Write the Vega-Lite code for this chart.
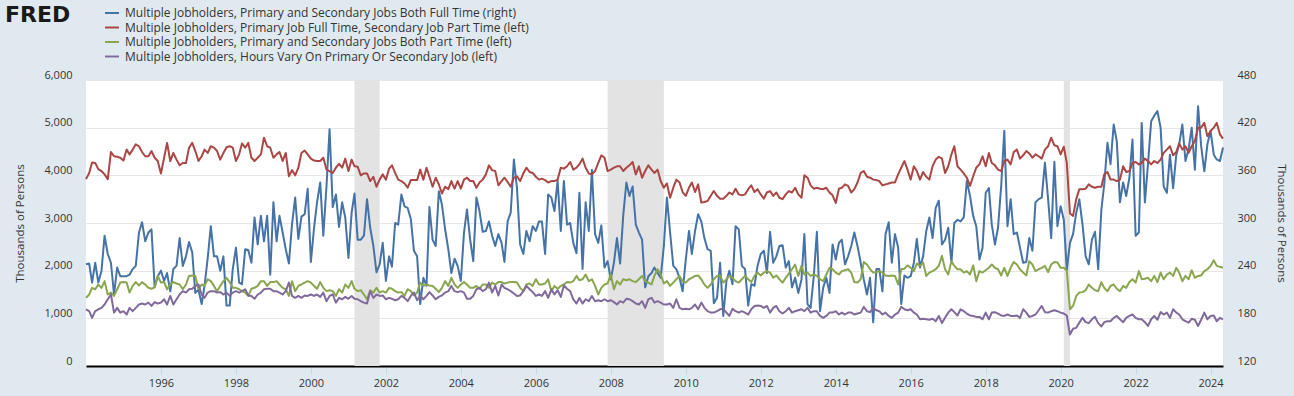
{
"$schema":"https://vega.github.io/schema/vega-lite/v6.json",
"width":1137,"height":286,"autosize":"none",
"padding":{"left":86,"top":80,"right":71,"bottom":30},
"config":{"background":"#e1e9f0","view":{"fill":"#ffffff","stroke":null},"font":"Open Sans"},
"data":{"values":[
{"d":"1994-01","a":248,"b":3920,"c":1430,"v":1190},{"d":"1994-02","a":249,"b":4050,"c":1500,"v":1150},{"d":"1994-03","a":225,"b":4270,"c":1640,"v":1010},{"d":"1994-04","a":250,"b":4260,"c":1610,"v":1150},{"d":"1994-05","a":225,"b":4130,"c":1710,"v":1190},{"d":"1994-06","a":240,"b":4090,"c":1640,"v":1220},{"d":"1994-07","a":284,"b":4020,"c":1780,"v":1290},{"d":"1994-08","a":261,"b":3920,"c":1500,"v":1400},{"d":"1994-09","a":250,"b":4490,"c":1540,"v":1500},{"d":"1994-10","a":210,"b":4400,"c":1470,"v":1120},{"d":"1994-11","a":244,"b":4390,"c":1610,"v":1220},{"d":"1994-12","a":233,"b":4370,"c":1750,"v":1120},
{"d":"1995-01","a":233,"b":4310,"c":1760,"v":1150},{"d":"1995-02","a":233,"b":4540,"c":1750,"v":1080},{"d":"1995-03","a":235,"b":4440,"c":1540,"v":1220},{"d":"1995-04","a":242,"b":4540,"c":1680,"v":1150},{"d":"1995-05","a":246,"b":4650,"c":1760,"v":1220},{"d":"1995-06","a":288,"b":4610,"c":1690,"v":1290},{"d":"1995-07","a":301,"b":4490,"c":1760,"v":1310},{"d":"1995-08","a":277,"b":4400,"c":1710,"v":1290},{"d":"1995-09","a":288,"b":4400,"c":1640,"v":1330},{"d":"1995-10","a":292,"b":4510,"c":1620,"v":1260},{"d":"1995-11","a":219,"b":4370,"c":1650,"v":1340},{"d":"1995-12","a":233,"b":4300,"c":1890,"v":1310},
{"d":"1996-01","a":240,"b":4040,"c":1750,"v":1330},{"d":"1996-02","a":227,"b":4370,"c":1760,"v":1400},{"d":"1996-03","a":237,"b":4680,"c":1610,"v":1290},{"d":"1996-04","a":214,"b":4300,"c":1710,"v":1470},{"d":"1996-05","a":242,"b":4470,"c":1760,"v":1290},{"d":"1996-06","a":246,"b":4330,"c":1730,"v":1400},{"d":"1996-07","a":281,"b":4210,"c":1710,"v":1500},{"d":"1996-08","a":246,"b":4260,"c":1610,"v":1570},{"d":"1996-09","a":258,"b":4260,"c":1710,"v":1540},{"d":"1996-10","a":276,"b":4580,"c":1890,"v":1610},{"d":"1996-11","a":263,"b":4680,"c":1900,"v":1620},{"d":"1996-12","a":212,"b":4510,"c":1890,"v":1680},
{"d":"1997-01","a":216,"b":4300,"c":1610,"v":1710},{"d":"1997-02","a":198,"b":4400,"c":1710,"v":1500},{"d":"1997-03","a":221,"b":4540,"c":1680,"v":1430},{"d":"1997-04","a":256,"b":4470,"c":1820,"v":1540},{"d":"1997-05","a":296,"b":4610,"c":1780,"v":1570},{"d":"1997-06","a":258,"b":4580,"c":1680,"v":1570},{"d":"1997-07","a":258,"b":4510,"c":1570,"v":1540},{"d":"1997-08","a":240,"b":4330,"c":1680,"v":1550},{"d":"1997-09","a":258,"b":4470,"c":1780,"v":1500},{"d":"1997-10","a":196,"b":4590,"c":1850,"v":1540},{"d":"1997-11","a":196,"b":4610,"c":1760,"v":1470},{"d":"1997-12","a":242,"b":4580,"c":1640,"v":1540},
{"d":"1998-01","a":269,"b":4300,"c":1640,"v":1570},{"d":"1998-02","a":225,"b":4440,"c":1610,"v":1540},{"d":"1998-03","a":223,"b":4670,"c":1570,"v":1570},{"d":"1998-04","a":267,"b":4580,"c":1540,"v":1610},{"d":"1998-05","a":266,"b":4680,"c":1470,"v":1480},{"d":"1998-06","a":250,"b":4370,"c":1620,"v":1470},{"d":"1998-07","a":307,"b":4300,"c":1640,"v":1410},{"d":"1998-08","a":273,"b":4370,"c":1680,"v":1500},{"d":"1998-09","a":309,"b":4440,"c":1780,"v":1540},{"d":"1998-10","a":277,"b":4790,"c":1780,"v":1610},{"d":"1998-11","a":309,"b":4610,"c":1680,"v":1620},{"d":"1998-12","a":235,"b":4580,"c":1760,"v":1620},
{"d":"1999-01","a":326,"b":4370,"c":1760,"v":1570},{"d":"1999-02","a":277,"b":4440,"c":1780,"v":1570},{"d":"1999-03","a":309,"b":4490,"c":1710,"v":1540},{"d":"1999-04","a":288,"b":4300,"c":1640,"v":1500},{"d":"1999-05","a":267,"b":4470,"c":1610,"v":1570},{"d":"1999-06","a":249,"b":3980,"c":1470,"v":1750},{"d":"1999-07","a":298,"b":4110,"c":1780,"v":1470},{"d":"1999-08","a":332,"b":4000,"c":1570,"v":1430},{"d":"1999-09","a":280,"b":4160,"c":1680,"v":1470},{"d":"1999-10","a":308,"b":4470,"c":1710,"v":1430},{"d":"1999-11","a":311,"b":4520,"c":1750,"v":1480},{"d":"1999-12","a":343,"b":4440,"c":1780,"v":1470},
{"d":"2000-01","a":251,"b":4350,"c":1750,"v":1500},{"d":"2000-02","a":294,"b":4310,"c":1680,"v":1470},{"d":"2000-03","a":326,"b":4300,"c":1620,"v":1500},{"d":"2000-04","a":351,"b":4300,"c":1760,"v":1450},{"d":"2000-05","a":284,"b":4370,"c":1640,"v":1540},{"d":"2000-06","a":346,"b":4120,"c":1570,"v":1360},{"d":"2000-07","a":418,"b":4090,"c":1590,"v":1470},{"d":"2000-08","a":320,"b":4050,"c":1570,"v":1500},{"d":"2000-09","a":336,"b":4160,"c":1470,"v":1330},{"d":"2000-10","a":295,"b":4240,"c":1610,"v":1430},{"d":"2000-11","a":326,"b":4160,"c":1540,"v":1400},{"d":"2000-12","a":307,"b":4350,"c":1710,"v":1450},
{"d":"2001-01","a":256,"b":4090,"c":1640,"v":1410},{"d":"2001-02","a":313,"b":4330,"c":1780,"v":1470},{"d":"2001-03","a":337,"b":4190,"c":1620,"v":1410},{"d":"2001-04","a":279,"b":4180,"c":1570,"v":1400},{"d":"2001-05","a":279,"b":4000,"c":1590,"v":1360},{"d":"2001-06","a":284,"b":4040,"c":1500,"v":1330},{"d":"2001-07","a":330,"b":4040,"c":1400,"v":1310},{"d":"2001-08","a":294,"b":3880,"c":1590,"v":1570},{"d":"2001-09","a":271,"b":3970,"c":1540,"v":1430},{"d":"2001-10","a":238,"b":3760,"c":1640,"v":1500},{"d":"2001-11","a":248,"b":3910,"c":1540,"v":1470},{"d":"2001-12","a":275,"b":4020,"c":1570,"v":1480},
{"d":"2002-01","a":227,"b":3910,"c":1540,"v":1400},{"d":"2002-02","a":258,"b":4140,"c":1640,"v":1430},{"d":"2002-03","a":245,"b":4210,"c":1620,"v":1410},{"d":"2002-04","a":300,"b":4050,"c":1570,"v":1380},{"d":"2002-05","a":298,"b":3910,"c":1540,"v":1400},{"d":"2002-06","a":336,"b":3880,"c":1550,"v":1470},{"d":"2002-07","a":321,"b":3830,"c":1470,"v":1430},{"d":"2002-08","a":319,"b":3740,"c":1610,"v":1360},{"d":"2002-09","a":305,"b":3900,"c":1570,"v":1470},{"d":"2002-10","a":265,"b":3900,"c":1480,"v":1540},{"d":"2002-11","a":258,"b":3900,"c":1540,"v":1380},{"d":"2002-12","a":198,"b":4120,"c":1750,"v":1480},
{"d":"2003-01","a":231,"b":3910,"c":1680,"v":1400},{"d":"2003-02","a":221,"b":4160,"c":1710,"v":1470},{"d":"2003-03","a":320,"b":3970,"c":1690,"v":1550},{"d":"2003-04","a":279,"b":3760,"c":1680,"v":1480},{"d":"2003-05","a":271,"b":3950,"c":1620,"v":1400},{"d":"2003-06","a":340,"b":3810,"c":1550,"v":1450},{"d":"2003-07","a":323,"b":3620,"c":1640,"v":1480},{"d":"2003-08","a":292,"b":3760,"c":1780,"v":1540},{"d":"2003-09","a":267,"b":3710,"c":1680,"v":1570},{"d":"2003-10","a":237,"b":3880,"c":1850,"v":1680},{"d":"2003-11","a":255,"b":3720,"c":1710,"v":1570},{"d":"2003-12","a":246,"b":3880,"c":1640,"v":1550},
{"d":"2004-01","a":227,"b":3720,"c":1710,"v":1570},{"d":"2004-02","a":288,"b":3910,"c":1760,"v":1540},{"d":"2004-03","a":317,"b":3950,"c":1710,"v":1410},{"d":"2004-04","a":279,"b":3880,"c":1640,"v":1410},{"d":"2004-05","a":252,"b":3880,"c":1640,"v":1470},{"d":"2004-06","a":332,"b":3740,"c":1680,"v":1610},{"d":"2004-07","a":315,"b":3850,"c":1620,"v":1640},{"d":"2004-08","a":289,"b":3910,"c":1710,"v":1570},{"d":"2004-09","a":290,"b":4020,"c":1710,"v":1610},{"d":"2004-10","a":302,"b":4210,"c":1640,"v":1750},{"d":"2004-11","a":284,"b":4110,"c":1750,"v":1540},{"d":"2004-12","a":271,"b":4090,"c":1710,"v":1680},
{"d":"2005-01","a":286,"b":3790,"c":1760,"v":1480},{"d":"2005-02","a":275,"b":3880,"c":1760,"v":1710},{"d":"2005-03","a":251,"b":3950,"c":1730,"v":1640},{"d":"2005-04","a":302,"b":3860,"c":1750,"v":1610},{"d":"2005-05","a":313,"b":3760,"c":1760,"v":1570},{"d":"2005-06","a":380,"b":3950,"c":1760,"v":1520},{"d":"2005-07","a":344,"b":3980,"c":1750,"v":1470},{"d":"2005-08","a":273,"b":3880,"c":1640,"v":1480},{"d":"2005-09","a":261,"b":4040,"c":1570,"v":1570},{"d":"2005-10","a":290,"b":4160,"c":1710,"v":1680},{"d":"2005-11","a":277,"b":4070,"c":1730,"v":1610},{"d":"2005-12","a":296,"b":4050,"c":1680,"v":1550},
{"d":"2006-01","a":290,"b":3970,"c":1820,"v":1470},{"d":"2006-02","a":302,"b":3910,"c":1710,"v":1500},{"d":"2006-03","a":302,"b":3930,"c":1710,"v":1470},{"d":"2006-04","a":261,"b":3900,"c":1730,"v":1570},{"d":"2006-05","a":336,"b":3850,"c":1820,"v":1430},{"d":"2006-06","a":332,"b":3880,"c":1570,"v":1610},{"d":"2006-07","a":315,"b":3880,"c":1680,"v":1500},{"d":"2006-08","a":353,"b":3910,"c":1620,"v":1590},{"d":"2006-09","a":290,"b":4160,"c":1680,"v":1450},{"d":"2006-10","a":353,"b":4140,"c":1710,"v":1690},{"d":"2006-11","a":298,"b":4190,"c":1760,"v":1620},{"d":"2006-12","a":300,"b":4280,"c":1750,"v":1570},
{"d":"2007-01","a":275,"b":4120,"c":1780,"v":1400},{"d":"2007-02","a":262,"b":4160,"c":1890,"v":1310},{"d":"2007-03","a":338,"b":4230,"c":1800,"v":1430},{"d":"2007-04","a":242,"b":4350,"c":1820,"v":1310},{"d":"2007-05","a":326,"b":4160,"c":1920,"v":1400},{"d":"2007-06","a":290,"b":4040,"c":1780,"v":1360},{"d":"2007-07","a":367,"b":4020,"c":1820,"v":1470},{"d":"2007-08","a":286,"b":4090,"c":1680,"v":1360},{"d":"2007-09","a":275,"b":4260,"c":1500,"v":1380},{"d":"2007-10","a":297,"b":4420,"c":1640,"v":1360},{"d":"2007-11","a":244,"b":4370,"c":1710,"v":1400},{"d":"2007-12","a":252,"b":4090,"c":1730,"v":1360},
{"d":"2008-01","a":229,"b":4120,"c":1920,"v":1380},{"d":"2008-02","a":250,"b":4160,"c":1610,"v":1340},{"d":"2008-03","a":281,"b":4190,"c":1780,"v":1290},{"d":"2008-04","a":249,"b":4190,"c":1710,"v":1360},{"d":"2008-05","a":309,"b":4090,"c":1820,"v":1330},{"d":"2008-06","a":351,"b":4160,"c":1800,"v":1410},{"d":"2008-07","a":334,"b":4210,"c":1820,"v":1400},{"d":"2008-08","a":346,"b":4280,"c":1780,"v":1360},{"d":"2008-09","a":298,"b":4020,"c":1760,"v":1310},{"d":"2008-10","a":288,"b":4190,"c":1820,"v":1290},{"d":"2008-11","a":279,"b":3950,"c":1890,"v":1360},{"d":"2008-12","a":219,"b":4090,"c":1780,"v":1220},
{"d":"2009-01","a":233,"b":4210,"c":1750,"v":1400},{"d":"2009-02","a":237,"b":4120,"c":1710,"v":1430},{"d":"2009-03","a":244,"b":4050,"c":1890,"v":1330},{"d":"2009-04","a":237,"b":4120,"c":2030,"v":1360},{"d":"2009-05","a":231,"b":3880,"c":1920,"v":1330},{"d":"2009-06","a":271,"b":3740,"c":1730,"v":1290},{"d":"2009-07","a":332,"b":3830,"c":1780,"v":1290},{"d":"2009-08","a":288,"b":3530,"c":1680,"v":1310},{"d":"2009-09","a":246,"b":3740,"c":1750,"v":1220},{"d":"2009-10","a":242,"b":3910,"c":1820,"v":1400},{"d":"2009-11","a":231,"b":3850,"c":1890,"v":1220},{"d":"2009-12","a":214,"b":3650,"c":1780,"v":1190},
{"d":"2010-01","a":254,"b":3570,"c":1750,"v":1200},{"d":"2010-02","a":290,"b":3740,"c":1820,"v":1190},{"d":"2010-03","a":261,"b":3850,"c":1850,"v":1220},{"d":"2010-04","a":290,"b":3650,"c":1890,"v":1290},{"d":"2010-05","a":311,"b":3810,"c":1900,"v":1190},{"d":"2010-06","a":302,"b":3430,"c":1820,"v":1330},{"d":"2010-07","a":281,"b":3440,"c":1710,"v":1220},{"d":"2010-08","a":267,"b":3460,"c":1640,"v":1150},{"d":"2010-09","a":265,"b":3570,"c":1710,"v":1120},{"d":"2010-10","a":199,"b":3670,"c":1820,"v":1120},{"d":"2010-11","a":206,"b":3570,"c":1890,"v":1150},{"d":"2010-12","a":250,"b":3510,"c":1900,"v":1190},
{"d":"2011-01","a":183,"b":3510,"c":1750,"v":1200},{"d":"2011-02","a":227,"b":3570,"c":1820,"v":1120},{"d":"2011-03","a":240,"b":3640,"c":1890,"v":1050},{"d":"2011-04","a":223,"b":3600,"c":1850,"v":1200},{"d":"2011-05","a":296,"b":3720,"c":1780,"v":1150},{"d":"2011-06","a":292,"b":3600,"c":1750,"v":1120},{"d":"2011-07","a":246,"b":3580,"c":1820,"v":1150},{"d":"2011-08","a":242,"b":3600,"c":1890,"v":1120},{"d":"2011-09","a":196,"b":3710,"c":1820,"v":1080},{"d":"2011-10","a":223,"b":3790,"c":1760,"v":1190},{"d":"2011-11","a":221,"b":3650,"c":1890,"v":1260},{"d":"2011-12","a":246,"b":3710,"c":1960,"v":1270},
{"d":"2012-01","a":261,"b":3600,"c":1900,"v":1260},{"d":"2012-02","a":265,"b":3510,"c":1960,"v":1220},{"d":"2012-03","a":237,"b":3640,"c":1990,"v":1260},{"d":"2012-04","a":289,"b":3670,"c":1960,"v":1120},{"d":"2012-05","a":250,"b":3570,"c":1850,"v":1220},{"d":"2012-06","a":258,"b":3640,"c":1900,"v":1260},{"d":"2012-07","a":271,"b":3530,"c":1820,"v":1150},{"d":"2012-08","a":272,"b":3500,"c":1750,"v":1100},{"d":"2012-09","a":244,"b":3600,"c":1850,"v":1150},{"d":"2012-10","a":252,"b":3670,"c":1940,"v":1220},{"d":"2012-11","a":219,"b":3640,"c":2030,"v":1120},{"d":"2012-12","a":231,"b":3740,"c":2130,"v":1150},
{"d":"2013-01","a":212,"b":3600,"c":1890,"v":1170},{"d":"2013-02","a":229,"b":3530,"c":2100,"v":1190},{"d":"2013-03","a":286,"b":4000,"c":1920,"v":1150},{"d":"2013-04","a":198,"b":3950,"c":1960,"v":1220},{"d":"2013-05","a":193,"b":3790,"c":1890,"v":1120},{"d":"2013-06","a":233,"b":3720,"c":1920,"v":1150},{"d":"2013-07","a":289,"b":3740,"c":1890,"v":1150},{"d":"2013-08","a":189,"b":3720,"c":1820,"v":1050},{"d":"2013-09","a":219,"b":3710,"c":1780,"v":1010},{"d":"2013-10","a":231,"b":3740,"c":1920,"v":1050},{"d":"2013-11","a":212,"b":3640,"c":2060,"v":1120},{"d":"2013-12","a":273,"b":3580,"c":2030,"v":1120},
{"d":"2014-01","a":254,"b":3420,"c":1960,"v":1150},{"d":"2014-02","a":275,"b":3720,"c":1920,"v":1080},{"d":"2014-03","a":279,"b":3740,"c":1990,"v":1120},{"d":"2014-04","a":248,"b":3810,"c":2010,"v":1080},{"d":"2014-05","a":258,"b":3780,"c":2030,"v":1120},{"d":"2014-06","a":271,"b":3640,"c":1960,"v":1120},{"d":"2014-07","a":288,"b":3710,"c":1760,"v":1080},{"d":"2014-08","a":271,"b":3850,"c":1750,"v":1100},{"d":"2014-09","a":250,"b":4050,"c":1820,"v":1120},{"d":"2014-10","a":229,"b":4090,"c":2180,"v":1240},{"d":"2014-11","a":210,"b":3970,"c":2130,"v":1150},{"d":"2014-12","a":231,"b":3950,"c":2030,"v":1130},
{"d":"2015-01","a":175,"b":3910,"c":1960,"v":1220},{"d":"2015-02","a":242,"b":3900,"c":1970,"v":1170},{"d":"2015-03","a":242,"b":3880,"c":1990,"v":1150},{"d":"2015-04","a":214,"b":3790,"c":1960,"v":1080},{"d":"2015-05","a":286,"b":3810,"c":1900,"v":1120},{"d":"2015-06","a":301,"b":3830,"c":1890,"v":1050},{"d":"2015-07","a":250,"b":3850,"c":1900,"v":1010},{"d":"2015-08","a":286,"b":3850,"c":1890,"v":1080},{"d":"2015-09","a":269,"b":4020,"c":1710,"v":1120},{"d":"2015-10","a":198,"b":4160,"c":2030,"v":1240},{"d":"2015-11","a":234,"b":4300,"c":2040,"v":1190},{"d":"2015-12","a":231,"b":4120,"c":2110,"v":1170},
{"d":"2016-01","a":233,"b":3910,"c":2060,"v":1190},{"d":"2016-02","a":250,"b":4190,"c":1990,"v":1120},{"d":"2016-03","a":280,"b":4090,"c":2150,"v":1080},{"d":"2016-04","a":244,"b":3910,"c":2100,"v":980},{"d":"2016-05","a":258,"b":4070,"c":2170,"v":990},{"d":"2016-06","a":290,"b":3970,"c":1890,"v":980},{"d":"2016-07","a":307,"b":3910,"c":1960,"v":970},{"d":"2016-08","a":281,"b":4190,"c":1990,"v":990},{"d":"2016-09","a":319,"b":4330,"c":2030,"v":940},{"d":"2016-10","a":328,"b":4390,"c":2100,"v":1050},{"d":"2016-11","a":273,"b":4350,"c":2310,"v":900},{"d":"2016-12","a":279,"b":4050,"c":2030,"v":1010},
{"d":"2017-01","a":294,"b":4190,"c":1920,"v":1120},{"d":"2017-02","a":250,"b":4440,"c":2200,"v":1190},{"d":"2017-03","a":300,"b":4610,"c":2100,"v":1130},{"d":"2017-04","a":304,"b":4190,"c":2030,"v":1060},{"d":"2017-05","a":302,"b":4120,"c":2030,"v":1190},{"d":"2017-06","a":307,"b":4040,"c":1960,"v":1150},{"d":"2017-07","a":353,"b":3950,"c":1990,"v":1100},{"d":"2017-08","a":334,"b":3780,"c":1920,"v":1060},{"d":"2017-09","a":309,"b":3980,"c":2110,"v":1050},{"d":"2017-10","a":296,"b":4160,"c":1780,"v":1030},{"d":"2017-11","a":254,"b":4230,"c":1990,"v":1030},{"d":"2017-12","a":269,"b":4400,"c":1960,"v":980},
{"d":"2018-01","a":338,"b":4190,"c":2010,"v":1120},{"d":"2018-02","a":344,"b":4470,"c":2060,"v":980},{"d":"2018-03","a":298,"b":4260,"c":2130,"v":1120},{"d":"2018-04","a":273,"b":4210,"c":2060,"v":1130},{"d":"2018-05","a":294,"b":4120,"c":2030,"v":1100},{"d":"2018-06","a":347,"b":4090,"c":1900,"v":1060},{"d":"2018-07","a":416,"b":4300,"c":2060,"v":1050},{"d":"2018-08","a":296,"b":4330,"c":1890,"v":1080},{"d":"2018-09","a":330,"b":4230,"c":2060,"v":1050},{"d":"2018-10","a":286,"b":4490,"c":2180,"v":1050},{"d":"2018-11","a":288,"b":4540,"c":2130,"v":1060},{"d":"2018-12","a":269,"b":4350,"c":2030,"v":1010},
{"d":"2019-01","a":250,"b":4420,"c":1960,"v":1190},{"d":"2019-02","a":251,"b":4510,"c":1900,"v":1120},{"d":"2019-03","a":281,"b":4460,"c":2200,"v":1030},{"d":"2019-04","a":265,"b":4370,"c":2130,"v":1050},{"d":"2019-05","a":326,"b":4440,"c":1990,"v":1080},{"d":"2019-06","a":330,"b":4400,"c":2030,"v":1170},{"d":"2019-07","a":332,"b":4350,"c":2060,"v":1260},{"d":"2019-08","a":376,"b":4540,"c":2100,"v":1130},{"d":"2019-09","a":330,"b":4610,"c":1970,"v":1120},{"d":"2019-10","a":281,"b":4790,"c":2130,"v":1150},{"d":"2019-11","a":377,"b":4630,"c":2180,"v":1170},{"d":"2019-12","a":296,"b":4610,"c":2170,"v":1150},
{"d":"2020-01","a":321,"b":4440,"c":2060,"v":1120},{"d":"2020-02","a":304,"b":4600,"c":2060,"v":1100},{"d":"2020-03","a":241,"b":4260,"c":2000,"v":1060},{"d":"2020-04","a":275,"b":3200,"c":1190,"v":660},{"d":"2020-05","a":286,"b":3150,"c":1260,"v":780},{"d":"2020-06","a":313,"b":3500,"c":1470,"v":800},{"d":"2020-07","a":330,"b":3710,"c":1540,"v":910},{"d":"2020-08","a":298,"b":3710,"c":1550,"v":1010},{"d":"2020-09","a":258,"b":3720,"c":1590,"v":920},{"d":"2020-10","a":248,"b":3810,"c":1710,"v":900},{"d":"2020-11","a":279,"b":3760,"c":1640,"v":980},{"d":"2020-12","a":289,"b":3740,"c":1590,"v":1030},
{"d":"2021-01","a":242,"b":3760,"c":1570,"v":900},{"d":"2021-02","a":317,"b":3760,"c":1760,"v":830},{"d":"2021-03","a":349,"b":4020,"c":1640,"v":920},{"d":"2021-04","a":401,"b":4070,"c":1570,"v":940},{"d":"2021-05","a":374,"b":3910,"c":1680,"v":940},{"d":"2021-06","a":424,"b":3910,"c":1710,"v":1010},{"d":"2021-07","a":403,"b":3880,"c":1620,"v":1050},{"d":"2021-08","a":326,"b":3910,"c":1570,"v":980},{"d":"2021-09","a":351,"b":4190,"c":1680,"v":920},{"d":"2021-10","a":334,"b":4070,"c":1640,"v":1010},{"d":"2021-11","a":357,"b":4090,"c":1760,"v":1050},{"d":"2021-12","a":405,"b":4260,"c":1820,"v":1080},
{"d":"2022-01","a":284,"b":4280,"c":1750,"v":1010},{"d":"2022-02","a":288,"b":4230,"c":1990,"v":980},{"d":"2022-03","a":426,"b":4260,"c":1820,"v":980},{"d":"2022-04","a":326,"b":4350,"c":1830,"v":920},{"d":"2022-05","a":374,"b":4300,"c":1850,"v":840},{"d":"2022-06","a":428,"b":4230,"c":1780,"v":980},{"d":"2022-07","a":435,"b":4300,"c":1890,"v":1050},{"d":"2022-08","a":441,"b":4260,"c":1760,"v":970},{"d":"2022-09","a":420,"b":4330,"c":1960,"v":1130},{"d":"2022-10","a":346,"b":4470,"c":1820,"v":1080},{"d":"2022-11","a":338,"b":4540,"c":1920,"v":1120},{"d":"2022-12","a":386,"b":4610,"c":1960,"v":1010},
{"d":"2023-01","a":344,"b":4420,"c":1890,"v":1190},{"d":"2023-02","a":386,"b":4490,"c":2060,"v":1120},{"d":"2023-03","a":399,"b":4670,"c":1960,"v":1080},{"d":"2023-04","a":424,"b":4540,"c":1780,"v":980},{"d":"2023-05","a":378,"b":4610,"c":1890,"v":940},{"d":"2023-06","a":393,"b":4470,"c":1820,"v":910},{"d":"2023-07","a":420,"b":4610,"c":2010,"v":990},{"d":"2023-08","a":367,"b":4720,"c":1850,"v":970},{"d":"2023-09","a":447,"b":5000,"c":1890,"v":840},{"d":"2023-10","a":397,"b":5000,"c":1900,"v":970},{"d":"2023-11","a":365,"b":5100,"c":1990,"v":1120},{"d":"2023-12","a":399,"b":4820,"c":2030,"v":980},
{"d":"2024-01","a":416,"b":4930,"c":2100,"v":1050},{"d":"2024-02","a":386,"b":5000,"c":2220,"v":1060},{"d":"2024-03","a":380,"b":5100,"c":2100,"v":940},{"d":"2024-04","a":378,"b":4860,"c":2080,"v":1010},{"d":"2024-05","a":395,"b":4770,"c":2060,"v":980}
]},
"encoding":{
 "x":{"field":"d","type":"temporal","title":null,
  "scale":{"domain":[{"year":1994,"month":1,"date":1},{"year":2024,"month":5,"date":1}]},
  "axis":{"values":[{"year":1996,"month":1,"date":1},{"year":1998,"month":1,"date":1},{"year":2000,"month":1,"date":1},{"year":2002,"month":1,"date":1},{"year":2004,"month":1,"date":1},{"year":2006,"month":1,"date":1},{"year":2008,"month":1,"date":1},{"year":2010,"month":1,"date":1},{"year":2012,"month":1,"date":1},{"year":2014,"month":1,"date":1},{"year":2016,"month":1,"date":1},{"year":2018,"month":1,"date":1},{"year":2020,"month":1,"date":1},{"year":2022,"month":1,"date":1},{"year":2024,"month":1,"date":1}],
   "format":"%Y","grid":false,"domainColor":"#000000","domainWidth":2,"tickColor":"#ccd6eb","tickSize":8,"labelFont":"Open Sans","labelFontSize":11,"labelColor":"#333333","labelPadding":3,"labelFlush":false}}
},
"layer":[
 {"data":{"values":[{"d":"2001-03","d2":"2001-11"},{"d":"2007-12","d2":"2009-06"},{"d":"2020-02","d2":"2020-04"}]},
  "mark":{"type":"rect","color":"#e3e3e3"},
  "encoding":{"x2":{"field":"d2"}}},
 {"transform":[{"fold":["a"],"as":["k","val"]}],
  "mark":{"type":"line","strokeWidth":2,"strokeJoin":"round"},
  "encoding":{
   "y":{"field":"val","type":"quantitative","scale":{"domain":[120,480],"nice":false,"zero":false},
    "axis":{"orient":"right","values":[120,180,240,300,360,420,480],"format":"d","grid":false,"domain":false,"ticks":false,"labelPadding":14,"labelFont":"Open Sans","labelFontSize":11,"labelColor":"#333333","labelBaseline":"bottom","labelFlush":false,"title":"Thousands of Persons","titleFont":"Open Sans","titleFontSize":11.5,"titleFontWeight":"normal","titleColor":"#333333","titlePadding":20}},
   "color":{"field":"k","type":"nominal",
    "scale":{"domain":["a","b","c","v"],"range":["#4572a7","#aa4643","#89a54e","#80699b"]},
    "legend":{"orient":"none","legendX":-81,"legendY":-75,"direction":"vertical","padding":0,
     "title":"FRED","titleOrient":"left","titleFont":"DejaVu Sans","titleFontSize":22,"titleFontWeight":"bold","titleColor":"#1a1a1a","titlePadding":33,"titleBaseline":"top","titleAnchor":"start",
     "symbolType":"stroke","symbolStrokeWidth":2,"symbolSize":196,"labelOffset":5,"labelFont":"Open Sans","labelFontSize":12,"labelColor":"#333333","labelLimit":700,"rowPadding":0.5,
     "labelExpr":"datum.label == 'a' ? 'Multiple Jobholders, Primary and Secondary Jobs Both Full Time (right)' : datum.label == 'b' ? 'Multiple Jobholders, Primary Job Full Time, Secondary Job Part Time (left)' : datum.label == 'c' ? 'Multiple Jobholders, Primary and Secondary Jobs Both Part Time (left)' : 'Multiple Jobholders, Hours Vary On Primary Or Secondary Job (left)'"}}}},
 {"transform":[{"fold":["b","c","v"],"as":["k","val"]}],
  "mark":{"type":"line","strokeWidth":2,"strokeJoin":"round"},
  "encoding":{
   "y":{"field":"val","type":"quantitative","scale":{"domain":[0,6000],"nice":false},
    "axis":{"orient":"left","values":[0,1000,2000,3000,4000,5000,6000],"format":",.0f","grid":true,"gridColor":"#e6e6e6","domain":false,"ticks":false,"labelPadding":14,"labelFont":"Open Sans","labelFontSize":11,"labelColor":"#333333","labelBaseline":"bottom","labelFlush":false,"title":"Thousands of Persons","titleFont":"Open Sans","titleFontSize":11.5,"titleFontWeight":"normal","titleColor":"#333333","titlePadding":18}},
   "color":{"field":"k","type":"nominal"}}}
],
"resolve":{"scale":{"y":"independent"}}
}
